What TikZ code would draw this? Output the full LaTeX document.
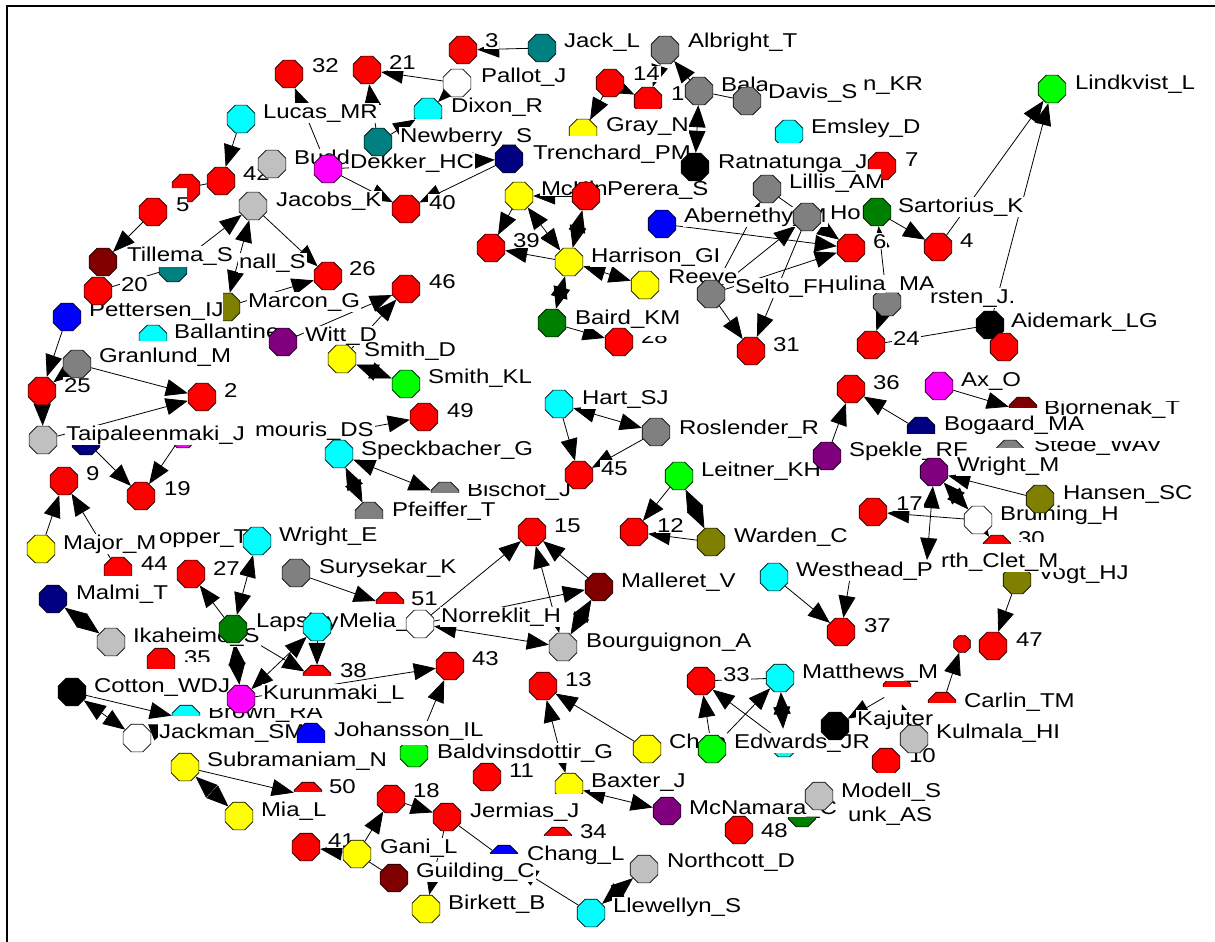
\documentclass[tikz,border=0pt]{standalone}
\usepackage{fontspec}
\setmainfont{Liberation Sans}[FakeStretch=1.2]
\usetikzlibrary{shapes.geometric,arrows.meta}
\pgfdeclarelayer{edge}
\pgfdeclarelayer{lab}
\pgfsetlayers{edge,lab,main}
\definecolor{cR}{RGB}{255,0,0}
\definecolor{cC}{RGB}{0,255,255}
\definecolor{cY}{RGB}{255,255,0}
\definecolor{cG}{RGB}{128,128,128}
\definecolor{cL}{RGB}{192,192,192}
\definecolor{cT}{RGB}{0,128,128}
\definecolor{cN}{RGB}{0,0,128}
\definecolor{cB}{RGB}{0,0,255}
\definecolor{cLm}{RGB}{0,255,0}
\definecolor{cD}{RGB}{0,128,0}
\definecolor{cO}{RGB}{128,128,0}
\definecolor{cP}{RGB}{128,0,128}
\definecolor{cM}{RGB}{255,0,255}
\definecolor{cMr}{RGB}{128,0,0}
\definecolor{cK}{RGB}{0,0,0}
\definecolor{cW}{RGB}{255,255,255}
\tikzset{
  oct/.style={regular polygon, regular polygon sides=8, minimum size=30pt, inner sep=0pt, draw=black, line width=0.7pt},
  smalloct/.style={oct, minimum size=18pt},
  lab/.style={anchor=base west, inner sep=0.8pt, fill=white, font=\fontsize{20}{24}\selectfont},
  ar/.style={line width=0.8pt, -{Triangle[length=22pt,width=17pt]}},
  dar/.style={line width=0.8pt, {Triangle[length=22pt,width=17pt]}-{Triangle[length=22pt,width=17pt]}},
  ln/.style={line width=0.8pt}
}
\newcommand{\mynd}[7]{%
  \begin{pgfonlayer}{lab}\node[lab] (#1l) at (#6,#7) {#5};\end{pgfonlayer}%
  \node[oct,fill=#4] (#1) at (#2,#3) {};}
\newcommand{\mypnd}[8]{%
  \begin{pgfonlayer}{lab}\node[lab] (#1l) at (#6,#7) {#5};\end{pgfonlayer}%
  \begin{scope}\clip #8;\node[oct,fill=#4] (#1) at (#2,#3) {};\end{scope}}
\newcommand{\myndn}[4]{\node[oct,fill=#4] (#1) at (#2,#3) {};}
\newcommand{\mypndn}[5]{\begin{scope}\clip #5;\node[oct,fill=#4] (#1) at (#2,#3) {};\end{scope}}
\newcommand{\mytxt}[4]{\begin{pgfonlayer}{lab}\node[lab] (#1) at (#2,#3) {#4};\end{pgfonlayer}}
\newcommand{\myctxt}[5]{\begin{pgfonlayer}{lab}\begin{scope}\clip #5;\node[lab] (#1) at (#2,#3) {#4};\end{scope}\end{pgfonlayer}}
\begin{document}
\begin{tikzpicture}[x=1pt,y=-1pt]
\useasboundingbox (0,0) rectangle (1215,942);
% ---------- top ----------
\mynd{n32}{289}{74}{cR}{32}{311}{73}
\mynd{n21}{367}{70}{cR}{21}{388}{70}
\mynd{n3}{463}{50}{cR}{3}{484}{48}
\mynd{jack}{542}{48}{cT}{Jack\_L}{563}{48}
\mynd{alb}{665}{50}{cG}{Albright\_T}{687}{48}
\mynd{pallot}{457}{83}{cW}{Pallot\_J}{480}{82}
\mypnd{dixon}{428}{112}{cC}{Dixon\_R}{450}{112}{(400,90) rectangle (449,118)}
\mynd{n14}{610}{83}{cR}{14}{632}{81}
\mypnd{r1}{648}{101}{cR}{1}{670}{100}{(630,80) rectangle (669,108)}
\mynd{bala}{699}{91}{cG}{Bala}{720}{91}
\mynd{davis}{747}{101}{cG}{Davis\_S}{767}{98}
\mytxt{tkr}{862}{90}{n\_KR}
\mynd{lucas}{241}{119}{cC}{Lucas\_MR}{262}{118}
\mynd{newb}{378}{142}{cT}{Newberry\_S}{399}{142}
\mynd{budc}{272}{164}{cL}{Budd}{293}{164}
\mynd{dekker}{328}{169}{cM}{Dekker\_HC}{349}{168}
\mynd{trench}{509}{159}{cN}{Trenchard\_PM}{532}{159}
\mypnd{gray}{583}{133}{cY}{Gray\_N}{605}{131}{(560,110) rectangle (604,135)}
\mypnd{emsley}{789}{134}{cC}{Emsley\_D}{810}{133}{(770,115) rectangle (809,142)}
\mynd{n42}{221}{181}{cR}{42}{242}{180}
\mypndn{r5a}{186}{188}{cR}{(165,168) -- (210,168) -- (210,210) -- (187,210) -- (187,188) -- (165,188) -- cycle}
\mynd{n5}{153}{212}{cR}{5}{175}{211}
\mynd{jacobs}{253}{206}{cL}{Jacobs\_K}{275}{206}
\mynd{n40}{406}{209}{cR}{40}{428}{209}
\mynd{mckin}{519}{196}{cY}{McKin}{540}{195}
\mynd{perera}{586}{196}{cR}{Perera\_S}{606}{195}
\mynd{ratna}{695}{167}{cK}{Ratnatunga\_J}{717}{168}
\mynd{lillis}{767}{189}{cG}{Lillis\_AM}{788}{188}
\mypnd{n7}{882}{166}{cR}{7}{904}{166}{(860,145) -- (902,145) -- (902,185) -- (881,185) -- (881,169) -- (860,169) -- cycle}
\mynd{aber}{662}{224}{cB}{Abernethy\_M}{683}{222}
\mynd{ho}{807}{217}{cG}{Ho}{829}{219}
\mynd{sart}{877}{212}{cD}{Sartorius\_K}{897}{212}
\mynd{n39}{491}{248}{cR}{39}{512}{247}
\mynd{harr}{569}{262}{cY}{Harrison\_GI}{590}{262}
\mynd{n6}{851}{248}{cR}{6}{872}{248}
\mynd{n4}{938}{247}{cR}{4}{959}{247}
\mynd{lind}{1052}{89}{cLm}{Lindkvist\_L}{1074}{89}
% ---------- upper left / middle ----------
\mynd{n20}{98}{291}{cR}{20}{120}{291}
\mynd{tillema}{103}{262}{cMr}{Tillema\_S}{126}{261}
\mypndn{teal2}{173}{268}{cT}{(150,267) rectangle (200,290)}
\mytxt{tnall}{238}{268}{nall\_S}
\mynd{n26}{328}{276}{cR}{26}{348}{275}
\mynd{reeve}{645}{285}{cY}{Reeve}{667}{283}
\mynd{selto}{711}{294}{cG}{Selto\_FH}{734}{293}
\mytxt{tulina}{834}{290}{ulina\_MA}
\mypnd{kirsten}{887}{302}{cG}{rsten\_J.}{929}{303}{(865,293) rectangle (910,320)}
\mypnd{marcon}{226}{307}{cO}{Marcon\_G}{247}{307}{(223,285) rectangle (245,330)}
\mypnd{ballan}{153}{339}{cC}{Ballantine}{173}{338}{(135,320) rectangle (172,340)}
\mynd{petter}{67}{317}{cB}{Pettersen\_IJ}{88}{316}
\mynd{n46}{406}{289}{cR}{46}{428}{288}
\mynd{witt}{283}{342}{cP}{Witt\_D}{304}{341}
\myndn{n28}{619}{342}{cR}
\myctxt{n28l}{640}{343}{28}{(635,336) rectangle (670,350)}
\mynd{baird}{552}{323}{cD}{Baird\_KM}{574}{324}
\mynd{n31}{751}{351}{cR}{31}{772}{351}
\mynd{n24}{871}{345}{cR}{24}{892}{345}
\mynd{aide}{990}{325}{cK}{Aidemark\_LG}{1010}{327}
\myndn{r1005}{1004}{347}{cR}
\mynd{granlund}{77}{364}{cG}{Granlund\_M}{98}{362}
\mynd{smithd}{342}{359}{cY}{Smith\_D}{363}{356}
\mynd{smithkl}{406}{384}{cLm}{Smith\_KL}{427}{383}
\mynd{n25}{42}{391}{cR}{25}{63}{392}
\mynd{n2}{202}{397}{cR}{2}{223}{397}
\mynd{n36}{851}{389}{cR}{36}{872}{389}
\mynd{ax}{939}{386}{cM}{Ax\_O}{960}{386}
\mypndn{bjorn}{1023}{411}{cMr}{(1000,390) rectangle (1042,407)}
\myctxt{bjornl}{1043}{414}{Bjornenak\_T}{(1040,401) rectangle (1200,425)}
\mypndn{stede}{1010}{454}{cG}{(990,435) rectangle (1032,447)}
\myctxt{stedel}{1033}{451}{Stede\_WAV}{(1030,441) rectangle (1200,460)}
\mypnd{bogaard}{921}{431}{cN}{Bogaard\_MA}{943}{430}{(900,410) rectangle (942,433)}
\mynd{hart}{559}{404}{cC}{Hart\_SJ}{581}{404}
\mynd{rosl}{656}{432}{cG}{Roslender\_R}{678}{434}
\mytxt{tmour}{254}{436}{mouris\_DS}
\mynd{taip}{43}{440}{cL}{Taipaleenmaki\_J}{65}{440}
\mypndn{navy2}{86}{441}{cN}{(70,445) rectangle (102,460)}
\mypndn{mag2}{183}{434}{cM}{(165,445) rectangle (200,452)}
\mynd{n49}{424}{417}{cR}{49}{446}{417}
\mynd{speck}{339}{454}{cC}{Speckbacher\_G}{360}{455}
\mynd{spekle}{827}{456}{cP}{Spekle\_RF}{848}{456}
\mynd{n9}{64}{481}{cR}{9}{85}{480}
\mynd{n19}{141}{496}{cR}{19}{163}{495}
\mynd{n45}{579}{475}{cR}{45}{600}{475}
\mypnd{pfeif}{369}{516}{cG}{Pfeiffer\_T}{391}{516}{(350,500) rectangle (390,518)}
\mypndn{bisch}{445}{496}{cG}{(425,478) rectangle (465,492)}
\myctxt{bischl}{466}{496}{Bischof\_J}{(462,484) rectangle (590,505)}
\mynd{leitner}{679}{476}{cLm}{Leitner\_KH}{700}{476}
\mynd{wrightm}{934}{472}{cP}{Wright\_M}{956}{471}
\mynd{hansen}{1040}{499}{cO}{Hansen\_SC}{1062}{499}
\mynd{n17}{873}{512}{cR}{17}{895}{510}
\mynd{bruin}{978}{520}{cW}{Bruining\_H}{999}{520}
\mypndn{n30}{997}{549}{cR}{(980,530) rectangle (1016,543)}
\myctxt{n30l}{1017}{545}{30}{(1014,520) rectangle (1050,541)}
\mypnd{vogt}{1017}{580}{cO}{Vogt\_HJ}{1037}{579}{(1000,572) rectangle (1036,600)}
\mytxt{trth}{940}{567}{rth\_Clet\_M}
\mynd{westh}{774}{577}{cC}{Westhead\_P}{795}{576}
\mynd{n37}{841}{632}{cR}{37}{863}{632}
\mynd{n15}{532}{532}{cR}{15}{553}{532}
\mynd{n12}{634}{532}{cR}{12}{656}{532}
\mynd{warden}{711}{542}{cO}{Warden\_C}{733}{542}
\mytxt{thop}{158}{543}{opper\_T}
\mynd{majorm}{41}{549}{cY}{Major\_M}{62}{549}
\mynd{wrighte}{257}{541}{cC}{Wright\_E}{278}{541}
\mypnd{n44}{118}{571}{cR}{44}{140}{570}{(100,550) rectangle (138,575)}
\mynd{n27}{191}{574}{cR}{27}{212}{575}
\mynd{sury}{296}{573}{cG}{Surysekar\_K}{318}{573}
\mynd{mall}{599}{587}{cMr}{Malleret\_V}{620}{587}
\mynd{malmi}{53}{599}{cN}{Malmi\_T}{75}{599}
\mynd{ikah}{111}{642}{cL}{Ikaheimo\_S}{132}{642}
\mypnd{n51}{390}{606}{cR}{51}{410}{605}{(370,585) rectangle (408,603)}
\mynd{lapsley}{233}{629}{cD}{Lapsley}{255}{627}
\mynd{melia}{317}{627}{cC}{Melia\_K}{338}{627}
\mynd{norre}{420}{624}{cW}{Norreklit\_H}{440}{622}
\mynd{bourg}{563}{647}{cL}{Bourguignon\_A}{585}{647}
% ---------- bottom ----------
\mypndn{n35}{161}{662}{cR}{(140,645) rectangle (180,668)}
\myctxt{n35l}{183}{664}{35}{(180,640) rectangle (215,661)}
\mypnd{n38}{317}{679}{cR}{38}{339}{677}{(300,660) rectangle (337,675)}
\mynd{cotton}{72}{692}{cK}{Cotton\_WDJ}{93}{692}
\mypndn{brown}{186}{719}{cC}{(170,700) rectangle (205,715)}
\myctxt{brownl}{207}{718}{Brown\_RA}{(204,708) rectangle (340,730)}
\mynd{kurun}{241}{699}{cM}{Kurunmaki\_L}{262}{699}
\mynd{jackman}{137}{738}{cW}{Jackman\_SM}{158}{738}
\mypnd{bald}{414}{753}{cLm}{Baldvinsdottir\_G}{436}{758}{(395,745) rectangle (435,770)}
\mypnd{johan}{311}{737}{cB}{Johansson\_IL}{333}{736}{(295,720) rectangle (332,742)}
\mynd{n43}{450}{666}{cR}{43}{471}{665}
\mynd{n13}{543}{686}{cR}{13}{564}{686}
\mynd{n33}{701}{681}{cR}{33}{722}{681}
\mynd{matt}{780}{678}{cC}{Matthews\_M}{801}{678}
\node[smalloct,fill=cR] (rsmall) at (962,644) {};
\mynd{n47}{993}{646}{cR}{47}{1015}{646}
\mypnd{carlin}{942}{706}{cR}{Carlin\_TM}{963}{707}{(925,685) rectangle (962,702)}
\mypndn{rhid}{897}{690}{cR}{(880,681) rectangle (915,686)}
\mynd{kajuter}{835}{726}{cK}{Kajuter}{856}{725}
\mypnd{n10}{886}{762}{cR}{10}{908}{762}{(865,740) rectangle (907,772)}
\mynd{kulm}{914}{739}{cL}{Kulmala\_HI}{935}{738}
\mypndn{cyanh}{784}{743}{cC}{(770,753) rectangle (800,760)}
\mynd{ch}{647}{749}{cY}{Chen}{668}{748}
\mynd{edw}{712}{749}{cLm}{Edwards\_JR}{733}{748}
\mynd{subra}{185}{767}{cY}{Subramaniam\_N}{206}{766}
\mypnd{n50}{308}{796}{cR}{50}{328}{793}{(290,775) rectangle (326,791)}
\mynd{mia}{239}{816}{cY}{Mia\_L}{260}{816}
\mynd{n11}{487}{777}{cR}{11}{508}{777}
\mypnd{baxter}{569}{787}{cY}{Baxter\_J}{590}{787}{(550,770) rectangle (588,793)}
\mynd{mcnam}{667}{811}{cP}{McNamara\_C}{688}{814}
\mypnd{funk}{802}{813}{cD}{unk\_AS}{847}{821}{(785,817) rectangle (820,830)}
\mynd{modell}{819}{796}{cL}{Modell\_S}{840}{797}
\mynd{n48}{739}{830}{cR}{48}{760}{837}
\mynd{n18}{391}{799}{cR}{18}{412}{797}
\mynd{jerm}{447}{817}{cR}{Jermias\_J}{469}{817}
\mypnd{n34}{558}{841}{cR}{34}{579}{838}{(540,820) rectangle (577,835)}
\mypnd{chang}{504}{859}{cB}{Chang\_L}{526}{860}{(485,840) rectangle (524,853)}
\mynd{n41}{306}{847}{cR}{41}{327}{847}
\mynd{gani}{357}{854}{cY}{Gani\_L}{379}{853}
\mynd{guild}{394}{878}{cMr}{Guilding\_C}{415}{877}
\mynd{birk}{426}{909}{cY}{Birkett\_B}{447}{909}
\mynd{llew}{591}{913}{cC}{Llewellyn\_S}{612}{912}
\mynd{north}{644}{869}{cL}{Northcott\_D}{666}{867}
\coordinate (h37) at (850,578);
\coordinate (hw) at (927,560);
\coordinate (hm) at (372,427);
% ---------- connectors ----------
\begin{pgfonlayer}{edge}
\draw[ar] (dekker) -- (n32);
\draw[ar] (pallot) -- (n21);
\draw[ar] (newb) -- (n21);
\draw[ar] (newb) -- (dixon);
\draw[ar] (pallot) -- (dixon);
\draw[ar] (jack) -- (n3);
\draw[ar] (lucas) -- (n42);
\draw[ln] (n42) -- (r5a);
\draw[ar] (n5) -- (tillema);
\draw[ar] (jacobs) -- (n26);
\draw[dar] (jacobs) -- (marcon);
\draw[ar] (teal2) -- (jacobs);
\draw[ar] (marcon) -- (n26);
\draw[ln] (n20) -- (teal2);
\draw[ar] (petter) -- (n25);
\draw[ar] (granlund) -- (n2);
\draw[ar] (n25) -- (taip);
\draw[ar] (granlund) -- (n25);
\draw[ar] (taip) -- (n2);
\draw[ar] (navy2) -- (n19);
\draw[ar] (mag2) -- (n19);
\draw[ar] (majorm) -- (n9);
\draw[ar] (n44) -- (n9);
\draw[dar] (wrighte) -- (lapsley);
\draw[ar] (lapsley) -- (n27);
\draw[ar] (sury) -- (n51);
\draw[dar] (malmi) -- (ikah);
\draw[dar] (lapsley) -- (kurun);
\draw[ar] (lapsley) -- (n38);
\draw[ar] (melia) -- (n38);
\draw[dar] (kurun) -- (melia);
\draw[ar] (kurun) -- (n43);
\draw[ar] (bald) -- (n43);
\draw[dar] (cotton) -- (jackman);
\draw[ar] (cotton) -- (brown);
\draw[ar] (jackman) -- (brown);
\draw[dar] (subra) -- (mia);
\draw[ar] (subra) -- (n50);
\draw[ar] (gani) -- (n41);
\draw[ar] (gani) -- (n18);
\draw[ln] (gani) -- (guild);
\draw[ar] (n18) -- (jerm);
\draw[ar] (jerm) -- (birk);
\draw[ln] (jerm) -- (chang);
\draw[ar] (llew) -- (chang);
\draw[dar] (north) -- (llew);
\draw[dar] (baxter) -- (mcnam);
\draw[dar] (n13) -- (baxter);
\draw[ar] (ch) -- (n13);
\draw[ar] (edw) -- (n33);
\draw[ar] (edw) -- (matt);
\draw[dar] (matt) -- (cyanh);
\draw[ar] (cyanh) -- (n33);
\draw[ln] (n33) -- (matt);
\draw[ar] (rhid) -- (kajuter);
\draw[ar] (kulm) -- (rhid);
\draw[ar] (carlin) -- (rsmall);
\draw[ar] (vogt) -- (n47);
\draw[ar] (westh) -- (n37);
\draw[ar] (h37) -- (n37);
\draw[dar] (hart) -- (rosl);
\draw[ar] (hart) -- (n45);
\draw[ar] (rosl) -- (n45);
\draw[ar] (leitner) -- (n12);
\draw[dar] (leitner) -- (warden);
\draw[ar] (warden) -- (n12);
\draw[ar] (norre) -- (n15);
\draw[dar] (bourg) -- (n15);
\draw[ar] (mall) -- (n15);
\draw[ar] (norre) -- (mall);
\draw[dar] (mall) -- (bourg);
\draw[dar] (bourg) -- (norre);
\draw[dar] (speck) -- (pfeif);
\draw[dar] (speck) -- (bisch);
\draw[ar] (witt) -- (n46);
\draw[ar] (smithd) -- (n46);
\draw[dar] (smithd) -- (smithkl);
\draw[ar] (baird) -- (n28);
\draw[dar] (harr) -- (baird);
\draw[dar] (harr) -- (reeve);
\draw[ar] (harr) -- (n39);
\draw[ar] (mckin) -- (n39);
\draw[dar] (mckin) -- (harr);
\draw[dar] (perera) -- (harr);
\draw[ar] (perera) -- (mckin);
\draw[ar] (trench) -- (n40);
\draw[ar] (dekker) -- (n40);
\draw[ar] (dekker) -- (trench);
\draw[ar] (n14) -- (gray);
\draw[ar] (n14) -- (r1);
\draw[ar] (bala) -- (alb);
\draw[ar] (alb) -- (r1);
\draw[ln] (bala) -- (davis);
\draw[dar] (bala) -- (ratna);
\draw[ar] (aber) -- (n6);
\draw[ar] (selto) -- (ho);
\draw[ar] (selto) -- (lillis);
\draw[ar] (selto) -- (n6);
\draw[ar] (lillis) -- (n6);
\draw[ar] (sart) -- (n4);
\draw[ar] (kirsten) -- (sart);
\draw[ar] (kirsten) -- (n24);
\draw[ar] (selto) -- (n31);
\draw[ar] (ho) -- (n31);
\draw[ar] (n4) -- (lind);
\draw[ar] (aide) -- (lind);
\draw[ln] (n24) -- (aide);
\draw[ar] (ax) -- (bjorn);
\draw[ar] (bogaard) -- (n36);
\draw[ar] (spekle) -- (n36);
\draw[dar] (wrightm) -- (bruin);
\draw[ar] (bruin) -- (n17);
\draw[dar] (hw) -- (wrightm);
\draw[ar] (bruin) -- (n30);
\draw[ar] (hansen) -- (wrightm);
\draw[ar] (hm) -- (n49);
\end{pgfonlayer}
% frame
\draw[line width=2pt] (7,942) -- (7,6) -- (1215,6);
\end{tikzpicture}
\end{document}
